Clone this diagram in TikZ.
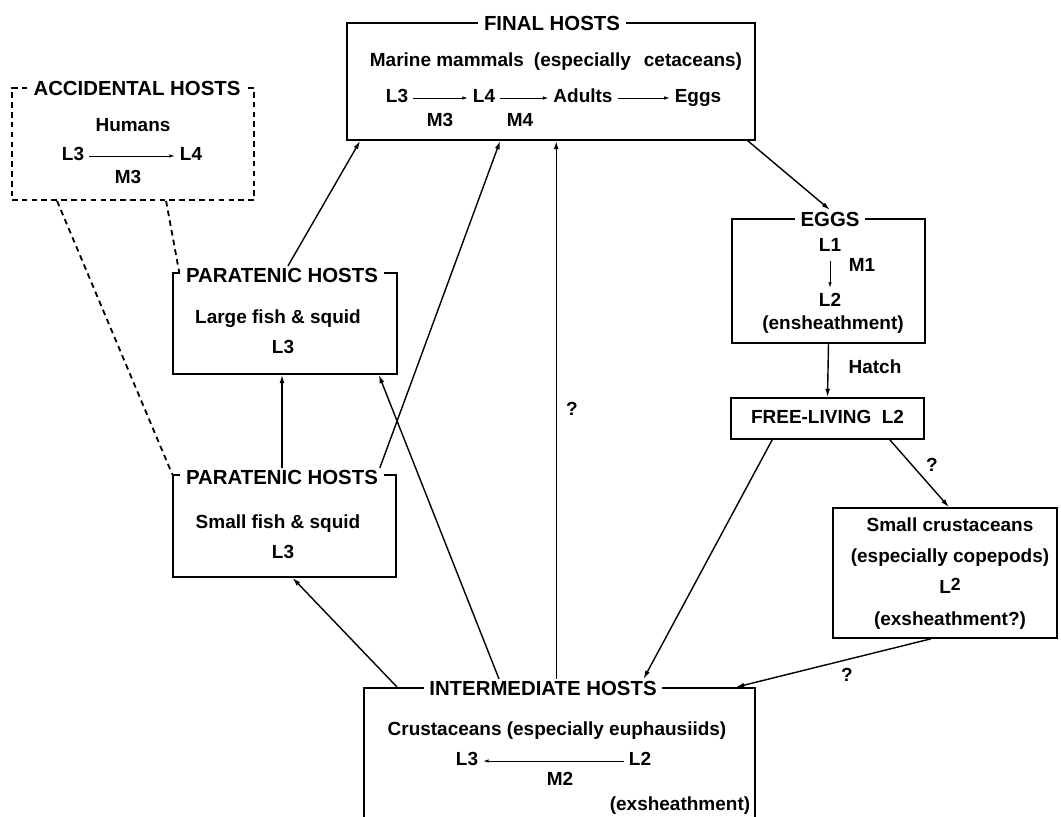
\documentclass[tikz,border=0pt]{standalone}
\usepackage{fontspec}
\setmainfont{Liberation Sans}
\usetikzlibrary{arrows.meta}

\begin{document}
\begin{tikzpicture}
    [
        x=0.025cm, y=-0.025cm,
        font=\fontsize{13.5}{15}\selectfont\bfseries,
        every node/.append style={text height=10pt, text depth=3pt},
        host/.style={draw, line width=1.1pt, inner sep=0pt},
        accid/.style={draw, line width=1.3pt, dash pattern=on 4pt off 3pt, inner sep=0pt},
        title/.style={fill=white, inner xsep=4pt, inner ysep=1pt, text height=10.5pt, text depth=0pt,
            font=\fontsize{14.5}{16}\selectfont\bfseries},
        edge/.style={-{Latex[length=6pt,width=3.5pt]}, line width=1pt},
        moult/.style={-{Latex[length=4pt,width=2.5pt]}, line width=0.7pt},
        link/.style={line width=1.3pt, dash pattern=on 4pt off 3pt},
    ]
    \useasboundingbox (0,0) rectangle (1061,817);

    % final hosts
    \node (final) at (551,81.5) [host, minimum width=10.2cm, minimum height=2.925cm] {};
    \node (FT)  at (552,23)  [title] {FINAL HOSTS};
    \node (mm)  at (556,62)  {Marine mammals\hspace{0.25em} (especially\hspace{0.4em} cetaceans)};
    \node (fL3) at (397,98)  {L3};
    \node (fL4) at (484,98)  {L4};
    \node (fAd) at (583,98)  {Adults};
    \node (fEg) at (698,98)  {Eggs};
    \node (fM3) at (440,122) {M3};
    \node (fM4) at (520,122) {M4};

    \path
    (fL3) edge [moult] (fL4)
    (fL4) edge [moult] (fAd)
    (fAd) edge [moult] (fEg);

    % accidental hosts
    \node (acc) at (133,144) [accid, minimum width=6.05cm, minimum height=2.8cm] {};
    \node (AT)  at (137,88)  [title] {ACCIDENTAL HOSTS};
    \node (hum) at (133,127) {Humans};
    \node (aL3) at (73,156)  {L3};
    \node (aL4) at (191,156) {L4};
    \node (aM3) at (128,179) {M3};

    \path (aL3) edge [moult] (aL4);

    % paratenic hosts
    \node (large) at (285,323.5) [host, minimum width=5.6cm, minimum height=2.525cm] {};
    \node (LT)  at (282,275) [title] {PARATENIC HOSTS};
    \node (lfs) at (278,319) {Large fish \& squid};
    \node (lL3) at (283,349) {L3};

    \node (small) at (284.5,526) [host, minimum width=5.575cm, minimum height=2.55cm] {};
    \node (ST)  at (282,477) [title] {PARATENIC HOSTS};
    \node (sfs) at (278,524) {Small fish \& squid};
    \node (sL3) at (283,554) {L3};

    % eggs and free-living
    \node (eggs) at (828.5,281) [host, minimum width=4.825cm, minimum height=3.1cm] {};
    \node (ET)  at (830,219) [title] {EGGS};
    \node (eL1) at (830,247) {L1};
    \node (eL2) at (830,302) {L2};
    \node (eM1) at (862,267) {M1};
    \node (ens) at (833,325) {(ensheathment)};

    \path (eL1) edge [moult] (eL2);

    \node (free) at (827.5,418.5) [host, minimum width=4.825cm, minimum height=1.025cm] {FREE-LIVING\ \ L2};
    \node (hatch) at (875,369) {Hatch};

    % small crustaceans
    \node (crus) at (945,573) [host, minimum width=5.6cm, minimum height=3.25cm] {};
    \node (sc1) at (950,527) {Small crustaceans};
    \node (sc2) at (950,558) {(especially copepods)};
    \node (sc3) at (950,589) {L\raisebox{0.35ex}{\fontsize{12.5}{14}\selectfont 2}};
    \node (sc4) at (950,621) {(exsheathment?)};

    % intermediate hosts
    \node (inter) at (559.5,769) [host, minimum width=9.775cm, minimum height=4.05cm] {};
    \node (IT)  at (543,688) [title] {INTERMEDIATE HOSTS};
    \node (cr)  at (557,731) {Crustaceans (especially euphausiids)};
    \node (iL3) at (467,761) {L3};
    \node (iL2) at (640,761) {L2};
    \node (iM2) at (560,781) {M2};
    \node (exs) at (680,806) {(exsheathment)};

    \path (iL2) edge [moult] (iL3);

    % life cycle
    \draw [edge] ([xshift=0.15cm]LT.north) -- ([xshift=0.35cm]final.south west);
    \draw [edge] ([xshift=-0.1cm]ST.north east) -- ([xshift=3.85cm]final.south west);
    \draw [edge] (ST.north) -- (ST.north |- large.south);
    \draw [edge] ([xshift=0.85cm]inter.north west) -- ([xshift=0.2cm]small.south);
    \draw [edge] ([xshift=-1.1cm]IT.north) -- ([xshift=-0.475cm]large.south east);
    \draw [edge] ([xshift=0.33cm]IT.north) -- ([xshift=0.33cm]IT.north |- final.south);
    \node (q1) at (572,411) {?};
    \draw [edge] ([xshift=-0.2cm]final.south east) -- (ET.north);
    \draw [edge] (eggs.south) -- (free.north);
    \draw [edge] ([xshift=1.05cm]free.south west) -- ([xshift=-0.475cm]IT.north east);
    \draw [edge] ([xshift=-0.875cm]free.south east) -- ([xshift=0.1cm]crus.north);
    \node (q2) at (932,467) {?};
    \draw [edge] ([xshift=-0.35cm]crus.south) -- ([xshift=-0.5cm]inter.north east);
    \node (q3) at (847,677) {?};

    % accidental links
    \draw [link] ([xshift=1.15cm]acc.south west) -- (small.north west);
    \draw [link] ([xshift=3.875cm]acc.south west) -- ([xshift=0.175cm]large.north west);

\end{tikzpicture}
\end{document}
